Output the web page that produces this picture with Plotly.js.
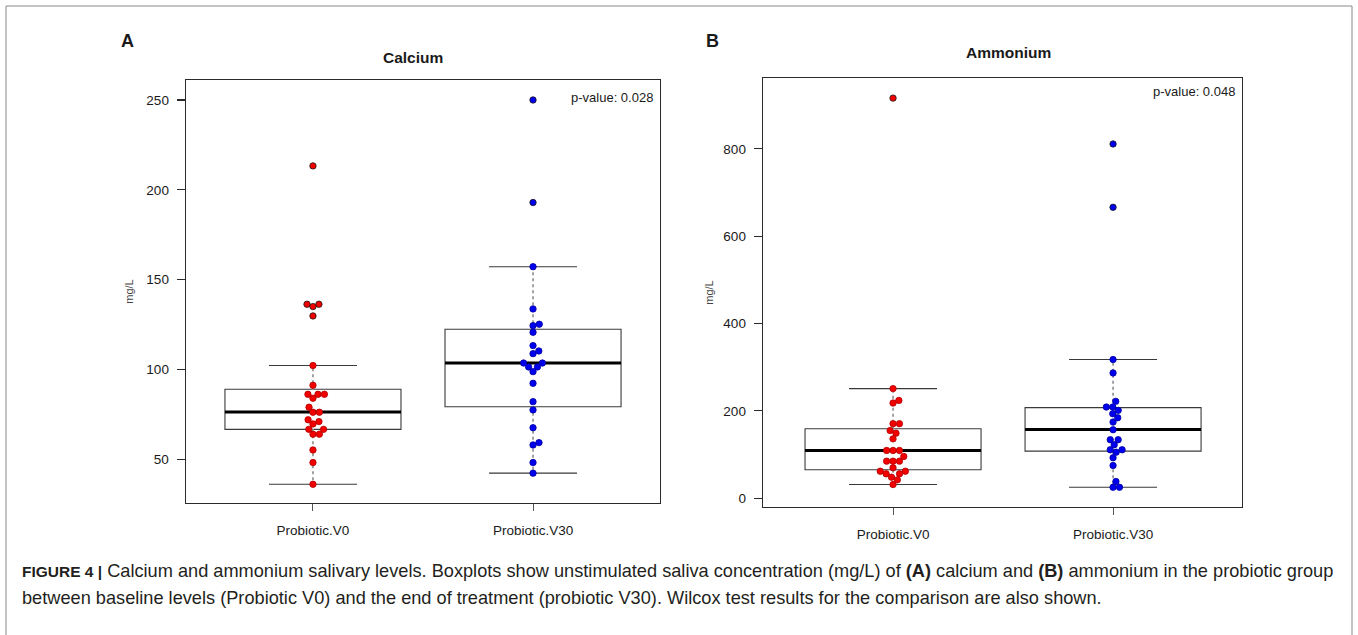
<!DOCTYPE html>
<html>
<head>
<meta charset="utf-8">
<script src="https://cdn.plot.ly/plotly-3.0.1.min.js"></script>
<style>html,body{margin:0;padding:0;background:#fff;}#chart{width:1358px;height:635px;}</style>
</head>
<body>
<div id="chart"></div>
<script>
// ---------- data ----------
const categories = ["Probiotic.V0", "Probiotic.V30"];

const calciumV0 = [213.3, 136.3, 136.3, 135, 129.8, 102.2, 91.2, 86.2, 86.2, 86.2, 84, 79, 76.2, 76.2, 72, 71, 69.7, 66.7, 66.7, 64, 64, 55.2, 48.2, 36.1];
const calciumV30 = [250, 192.9, 157.2, 133.7, 125.2, 124.4, 120.7, 113.3, 110.3, 108.8, 103.6, 103.6, 101.4, 101.4, 98.8, 92.3, 82.1, 77.5, 67.6, 59.3, 58, 48.2, 42.3];
// box statistics [V0, V30]
const calciumQ1 = [66.7, 79.3];
const calciumMedian = [76.3, 103.6];
const calciumQ3 = [89, 122.4];
const calciumLow = [36.1, 42.3];
const calciumHigh = [102.2, 157.2];

const ammoniumV0 = [916, 251, 224, 218, 170.7, 170.7, 155, 149, 136, 109.4, 109.4, 109.4, 95.7, 84.9, 84.9, 84.9, 69.7, 61.9, 61.9, 56, 56, 48.2, 42.2, 31.4];
const ammoniumV30 = [811, 666, 317.5, 286.8, 221.8, 208.8, 208.8, 201.2, 193.6, 184.4, 174.4, 156.9, 134, 134, 122.5, 111, 111, 105.5, 92.7, 75, 38.3, 25.2, 25.2];
const ammoniumQ1 = [65.1, 107.8];
const ammoniumMedian = [109.4, 157.2];
const ammoniumQ3 = [159.2, 207.4];
const ammoniumLow = [31.4, 25.2];
const ammoniumHigh = [251, 317.5];

const pValues = ["0.028", "0.048"];
const yTicksA = [50, 100, 150, 200, 250];
const yTicksB = [0, 200, 400, 600, 800];

// ---------- geometry / style ----------
const W = 1358, H = 635;
const FONT = "Liberation Sans, Arial, Helvetica, sans-serif";
const fx = p => p / W, fy = p => 1 - p / H;
const panelA = {x0: 186, x1: 660, y0: 80, y1: 503, xr: [0.423, 2.577], yr: [25.7, 261.1]};
const panelB = {x0: 763, x1: 1242, y0: 78, y1: 507, xr: [0.409, 2.586], yr: [-20, 962]};
const BOXW = 0.8, CAPW = 0.5, DIAM = 6.4;
const colV0 = "#f20000", edgeV0 = "#b00000";
const colV30 = "#0000ee", edgeV30 = "#0000a0";

function swarm(values, pxPerUnit, diam, pxPerCat) {
  const order = values.map((v, i) => i).sort((a, b) => values[a] - values[b]);
  const placed = [], offs = new Array(values.length);
  for (const i of order) {
    const y = values[i] * pxPerUnit;
    const cands = [0];
    for (const p of placed) {
      const dy = y - p.y;
      if (Math.abs(dy) < diam) {
        const dx = Math.sqrt(diam * diam - dy * dy);
        cands.push(p.x + dx, p.x - dx);
      }
    }
    cands.sort((a, b) => Math.abs(a) - Math.abs(b) || b - a);
    let best = 0;
    for (const c of cands) {
      if (placed.every(p => (c - p.x) ** 2 + (y - p.y) ** 2 >= diam * diam - 1e-6)) { best = c; break; }
    }
    placed.push({x: best, y: y});
    offs[i] = best / pxPerCat;
  }
  return offs;
}

function panelTraces(ax, P, groups, q1, med, q3, lo, hi) {
  const xa = "x" + (ax === 1 ? "" : ax), ya = "y" + (ax === 1 ? "" : ax);
  const pxPerUnit = (P.y1 - P.y0) / (P.yr[1] - P.yr[0]);
  const pxPerCat = (P.x1 - P.x0) / (P.xr[1] - P.xr[0]);
  const traces = [];
  traces.push({
    type: "box", xaxis: xa, yaxis: ya, x: [1, 2],
    q1: q1, median: med, q3: q3, lowerfence: lo, upperfence: hi,
    width: BOXW, whiskerwidth: CAPW, boxpoints: false,
    fillcolor: "rgba(255,255,255,0)", line: {color: "#3a3a3a", width: 1.1},
    hoverinfo: "skip", showlegend: false
  });
  [0, 1].forEach(g => {
    const xc = g + 1;
    const wx = [xc, xc, null, xc, xc];
    const wy = [q3[g], hi[g], null, q1[g], lo[g]];
    traces.push({type: "scatter", mode: "lines", xaxis: xa, yaxis: ya, x: wx, y: wy,
      line: {color: "#ffffff", width: 2.2}, hoverinfo: "skip", showlegend: false});
    traces.push({type: "scatter", mode: "lines", xaxis: xa, yaxis: ya, x: wx, y: wy,
      line: {color: "#666", width: 1.2, dash: "dot"}, hoverinfo: "skip", showlegend: false});
    traces.push({type: "scatter", mode: "lines", xaxis: xa, yaxis: ya,
      x: [xc - BOXW / 2, xc + BOXW / 2], y: [med[g], med[g]],
      line: {color: "#000", width: 3}, hoverinfo: "skip", showlegend: false});
  });
  groups.forEach((vals, g) => {
    const offs = swarm(vals, pxPerUnit, DIAM, pxPerCat);
    const fill = g === 0 ? colV0 : colV30, edge = g === 0 ? edgeV0 : edgeV30;
    traces.push({
      type: "scatter", mode: "markers", xaxis: xa, yaxis: ya,
      x: vals.map((v, i) => g + 1 + offs[i]), y: vals,
      marker: {size: DIAM, color: fill,
        line: {width: 0.8, color: vals.map(v => (v > hi[g] || v < lo[g]) ? "#1a1a1a" : edge)}},
      name: categories[g], showlegend: false
    });
  });
  return traces;
}

const data = [].concat(
  panelTraces(1, panelA, [calciumV0, calciumV30], calciumQ1, calciumMedian, calciumQ3, calciumLow, calciumHigh),
  panelTraces(2, panelB, [ammoniumV0, ammoniumV30], ammoniumQ1, ammoniumMedian, ammoniumQ3, ammoniumLow, ammoniumHigh)
);

function xAxis(P, anchor) {
  return {
    domain: [fx(P.x0), fx(P.x1)], range: P.xr, anchor: anchor,
    tickvals: [1, 2], ticktext: categories, ticks: "outside", ticklen: 7, tickwidth: 1, tickcolor: "#555",
    ticklabelstandoff: 7,
    showline: true, mirror: true, linecolor: "#2a2a2a", linewidth: 1.4,
    showgrid: false, zeroline: false, fixedrange: true,
    tickfont: {family: FONT, size: 13.5, color: "#1a1a1a"}
  };
}
function yAxis(P, anchor, ticks, standoff) {
  return {
    domain: [fy(P.y1), fy(P.y0)], range: P.yr, anchor: anchor,
    tickvals: ticks, ticks: "outside", ticklen: 8, tickwidth: 1.2, tickcolor: "#2a2a2a",
    ticklabelstandoff: 5,
    showline: true, mirror: true, linecolor: "#2a2a2a", linewidth: 1.4,
    showgrid: false, zeroline: false, fixedrange: true,
    tickfont: {family: FONT, size: 13.5, color: "#1a1a1a"},
    title: {text: "mg/L", standoff: standoff, font: {family: FONT, size: 11, color: "#444"}}
  };
}

const ann = (x, y, text, size, opts) => Object.assign({
  xref: "paper", yref: "paper", x: fx(x), y: fy(y), text: text, showarrow: false,
  font: {family: FONT, size: size, color: "#1a1a1a"}, xanchor: "center", yanchor: "middle"
}, opts || {});

const capFont = {family: FONT, size: 18.2, color: "#231f20"};

const layout = {
  width: W, height: H, margin: {l: 0, r: 0, t: 0, b: 0},
  paper_bgcolor: "#fff", plot_bgcolor: "#fff", showlegend: false,
  xaxis: xAxis(panelA, "y"), yaxis: yAxis(panelA, "x", yTicksA, 10),
  xaxis2: xAxis(panelB, "y2"), yaxis2: yAxis(panelB, "x2", yTicksB, 7),
  shapes: [
    {type: "rect", xref: "paper", yref: "paper", x0: fx(6), x1: fx(1352), y0: fy(660), y1: fy(6),
     line: {color: "#8a8a8a", width: 1}, fillcolor: "rgba(0,0,0,0)", layer: "below"}
  ],
  annotations: [
    ann(127, 41, "<b>A</b>", 18),
    ann(712, 41, "<b>B</b>", 18),
    ann(413, 57, "<b>Calcium</b>", 15.5),
    ann(1008, 53, "<b>Ammonium</b>", 15.5),
    ann(655, 98, "p-value: " + pValues[0], 13, {xanchor: "right"}),
    ann(1237, 91, "p-value: " + pValues[1], 13, {xanchor: "right"}),
    ann(20, 571, "<span style=\"font-size:15.5px\"><b>FIGURE 4 |</b></span> Calcium and ammonium salivary levels. Boxplots show unstimulated saliva concentration (mg/L) of <b>(A)</b> calcium and <b>(B)</b> ammonium in the probiotic group", 18.2, {xanchor: "left", align: "left", font: capFont}),
    ann(20, 598, "between baseline levels (Probiotic V0) and the end of treatment (probiotic V30). Wilcox test results for the comparison are also shown.", 18.2, {xanchor: "left", align: "left", font: capFont})
  ]
};

Plotly.newPlot("chart", data, layout, {staticPlot: true, displayModeBar: false});
</script>
</body>
</html>
